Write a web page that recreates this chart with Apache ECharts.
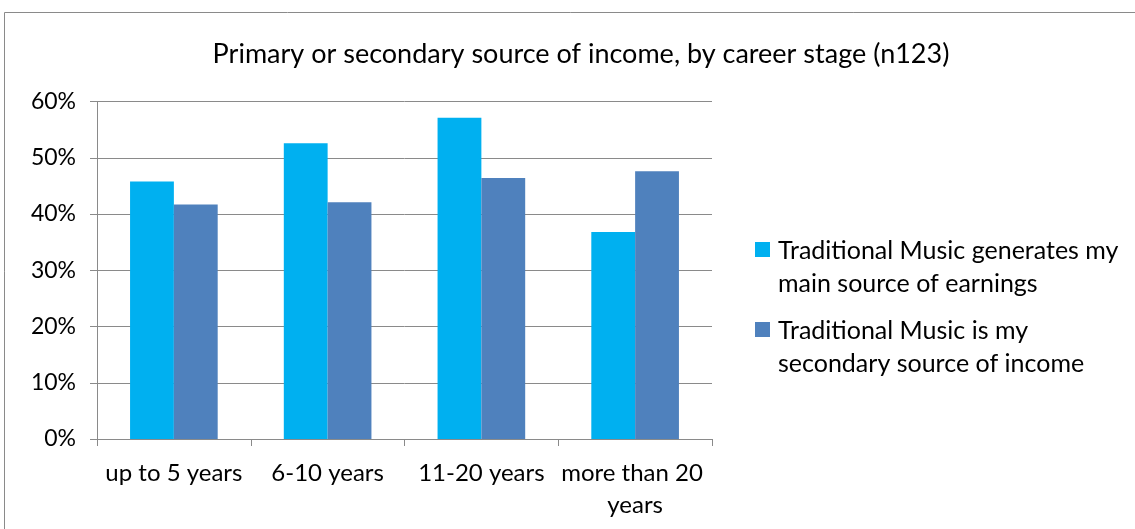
<!DOCTYPE html>
<html>
<head>
<meta charset="utf-8">
<script src="https://cdn.jsdelivr.net/npm/echarts@6/dist/echarts.min.js"></script>
<style>
  html, body { margin: 0; padding: 0; background: #fff; }
  #chart { width: 1135px; height: 529px; }
</style>
</head>
<body>
<div id="chart"></div>
<script>
// Career stage categories and share of respondents per income type
const categories = ['up to 5 years', '6-10 years', '11-20 years', 'more than 20 years'];
const mainSource = [45.8, 52.6, 57.1, 36.8];
const secondarySource = [41.7, 42.1, 46.4, 47.6];
const seriesNames = [
  'Traditional Music generates my main source of earnings',
  'Traditional Music is my secondary source of income'
];
const legendLines = {
  'Traditional Music generates my main source of earnings': ['Traditional Music generates my', 'main source of earnings'],
  'Traditional Music is my secondary source of income': ['Traditional Music is my', 'secondary source of income']
};
const chartTitle = 'Primary or secondary source of income, by career stage (n123)';

const FONT = 'Lato';
const GRID_COLOR = '#8a8a8a';

const chart = echarts.init(document.getElementById('chart'), null, { renderer: 'canvas' });

chart.setOption({
  animation: false,
  backgroundColor: '#fff',
  textStyle: { fontFamily: FONT, color: '#000' },
  graphic: [{
    type: 'rect',
    shape: { x: 4.5, y: 12.5, width: 1140, height: 540 },
    style: { fill: 'none', stroke: '#8a8a8a', lineWidth: 1 },
    silent: true
  }],
  title: {
    text: chartTitle,
    left: 576,
    textAlign: 'center',
    top: 36,
    textStyle: { fontFamily: FONT, fontSize: 27, fontWeight: 'normal', color: '#000' }
  },
  legend: {
    orient: 'vertical',
    left: 750,
    top: 194,
    itemWidth: 15,
    itemHeight: 15,
    itemGap: -21,
    icon: 'rect',
    // a short spacer line on top keeps the square beside the first text line
    formatter: name => '{s| }\n{t|' + legendLines[name][0] + '}\n{t|' + legendLines[name][1] + '}',
    textStyle: {
      fontFamily: FONT, fontSize: 25, lineHeight: 33, color: '#000',
      padding: [0, 0, 0, 3],
      rich: {
        s: { fontSize: 2, lineHeight: 35 },
        t: { fontFamily: FONT, fontSize: 25, lineHeight: 33, color: '#000' }
      }
    },
    data: seriesNames
  },
  grid: { left: 97, right: 423, top: 101.5, bottom: 90, containLabel: false },
  xAxis: {
    type: 'category',
    data: categories,
    axisLine: { show: true, lineStyle: { color: GRID_COLOR, width: 1 } },
    axisTick: { show: true, length: 7, alignWithLabel: false, lineStyle: { color: GRID_COLOR } },
    axisLabel: {
      fontFamily: FONT, fontSize: 24, color: '#000', margin: 18, lineHeight: 32,
      interval: 0, width: 152, overflow: 'break'
    }
  },
  yAxis: {
    type: 'value',
    min: 0, max: 60, interval: 10,
    axisLine: { show: true, lineStyle: { color: GRID_COLOR, width: 1 } },
    axisTick: { show: true, length: 7, lineStyle: { color: GRID_COLOR } },
    axisLabel: { fontFamily: FONT, fontSize: 23, color: '#000', margin: 21, formatter: '{value}%' },
    splitLine: { show: true, lineStyle: { color: GRID_COLOR, width: 1 } }
  },
  series: [
    {
      name: seriesNames[0], type: 'bar', data: mainSource,
      barGap: '0%', barCategoryGap: '43%',
      itemStyle: { color: '#00B0F0' }
    },
    {
      name: seriesNames[1], type: 'bar', data: secondarySource,
      barGap: '0%', barCategoryGap: '43%',
      itemStyle: { color: '#4F81BD' }
    }
  ]
});
</script>
</body>
</html>
